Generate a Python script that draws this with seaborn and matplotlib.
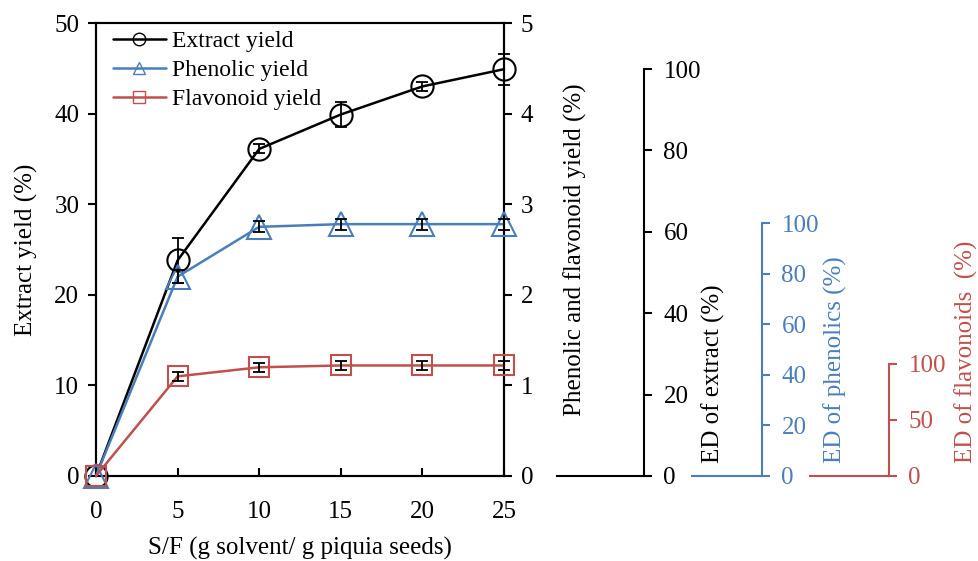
import matplotlib
matplotlib.use("Agg")
import matplotlib.pyplot as plt
from matplotlib.lines import Line2D
import seaborn as sns
import pandas as pd
import numpy as np

# ---- data ----
sf = [0, 5, 10, 15, 20, 25]
extract_yield = [0, 23.8, 36.1, 39.9, 43.0, 44.9]
extract_err = [0, 2.5, 0.5, 1.4, 0.5, 1.7]
phenolic_yield = [0, 2.20, 2.75, 2.78, 2.78, 2.78]
phenolic_err = [0, 0.07, 0.06, 0.06, 0.06, 0.06]
flavonoid_yield = [0, 1.10, 1.20, 1.22, 1.22, 1.22]
flavonoid_err = [0, 0.05, 0.05, 0.05, 0.05, 0.05]

series_names = ["Extract yield", "Phenolic yield", "Flavonoid yield"]
c_black = "#000000"
c_blue = "#4A7EBB"
c_red = "#C0504D"

sns.set_theme(style="white")
plt.rcParams["font.family"] = ["Liberation Serif", "DejaVu Serif"]
plt.rcParams["font.size"] = 18
plt.rcParams["axes.linewidth"] = 1.5
plt.rcParams["text.color"] = "black"
plt.rcParams["axes.labelcolor"] = "black"
plt.rcParams["xtick.color"] = "black"
plt.rcParams["ytick.color"] = "black"

W, H = 979, 561
fig = plt.figure(figsize=(W / 100, H / 100), dpi=100)

def px_axes(x0, x1, ytop, ybot):
    return fig.add_axes([x0 / W, 1 - ybot / H, (x1 - x0) / W, (ybot - ytop) / H])

ax = px_axes(96, 504, 23, 476)
ax2 = ax.twinx()

df = pd.DataFrame({"sf": sf, "ext": extract_yield, "phe": phenolic_yield, "fla": flavonoid_yield})

sns.lineplot(data=df, x="sf", y="ext", ax=ax, color=c_black, marker="o", markersize=16,
             markerfacecolor="none", markeredgecolor=c_black, markeredgewidth=1.5, lw=1.8,
             zorder=3, clip_on=False)
sns.lineplot(data=df, x="sf", y="phe", ax=ax2, color=c_blue, marker="^", markersize=17,
             markerfacecolor="none", markeredgecolor=c_blue, markeredgewidth=1.5, lw=1.8,
             zorder=3, clip_on=False)
sns.lineplot(data=df, x="sf", y="fla", ax=ax2, color=c_red, marker="s", markersize=14,
             markerfacecolor="none", markeredgecolor=c_red, markeredgewidth=1.5, lw=1.8,
             zorder=3, clip_on=False)

for a, yv, ye in ((ax, extract_yield, extract_err), (ax2, phenolic_yield, phenolic_err),
                  (ax2, flavonoid_yield, flavonoid_err)):
    eb = a.errorbar(sf[1:], yv[1:], yerr=ye[1:], fmt="none", ecolor="black",
                    elinewidth=1.3, capsize=4.5, capthick=1.3, zorder=4)
    for art in list(eb.lines[1]) + list(eb.lines[2]):
        art.set_clip_on(False)

ax.set_xlim(0, 25)
ax.set_ylim(0, 50)
ax2.set_ylim(0, 5)
ax.set_xticks([0, 5, 10, 15, 20, 25])
ax.set_yticks([0, 10, 20, 30, 40, 50])
ax2.set_yticks([0, 1, 2, 3, 4, 5])
for a in (ax, ax2):
    for s in a.spines.values():
        s.set_color("black")
        s.set_linewidth(1.5)
ax.tick_params(axis="x", direction="in", length=6, width=1.5, pad=18, colors="black", labelsize=18, bottom=True)
ax.tick_params(axis="y", direction="out", length=6, width=1.5, pad=6, colors="black", labelsize=18, left=True)
ax2.tick_params(axis="y", direction="out", length=6, width=1.5, pad=6, colors="black", labelsize=18, right=True)
ax.set_xlabel("S/F (g solvent/ g piquia seeds)", fontsize=18, labelpad=10, color="black")
ax.set_ylabel("Extract yield (%)", fontsize=18, labelpad=12, color="black")
ax2.set_ylabel("Phenolic and flavonoid yield (%)", fontsize=18, labelpad=22, color="black")
ax.grid(False)
ax2.grid(False)

handles = [
    Line2D([], [], color=c_black, marker="o", markersize=9, markerfacecolor="none", lw=1.8),
    Line2D([], [], color=c_blue, marker="^", markersize=9, markerfacecolor="none", lw=1.8),
    Line2D([], [], color=c_red, marker="s", markersize=9, markerfacecolor="none", lw=1.8),
]
leg = ax.legend(handles, series_names, loc="upper left", frameon=False, fontsize=17,
                handlelength=2.25, handletextpad=0.25, labelspacing=0.32, borderaxespad=0.0,
                bbox_to_anchor=(0.018, 1.004), labelcolor="black")

# ---- ED axes (empty decorative axes) ----
ed_specs = [
    (557, 644, 69, c_black, [0, 20, 40, 60, 80, 100], "ED of extract (%)", 713),
    (692, 762, 223, c_blue, [0, 20, 40, 60, 80, 100], "ED of phenolics (%)", 835),
    (810, 889, 364, c_red, [0, 50, 100], "ED of flavonoids  (%)", 966),
]
for x0, x1, ytop, col, ticks, lab, lx in ed_specs:
    e = px_axes(x0, x1, ytop, 476)
    e.set_facecolor("none")
    e.set_ylim(0, 100)
    e.set_xlim(0, 1)
    e.set_yticks(ticks)
    e.set_xticks([])
    e.yaxis.tick_right()
    for k in ("left", "top"):
        e.spines[k].set_visible(False)
    for k in ("right", "bottom"):
        e.spines[k].set_color(col)
        e.spines[k].set_linewidth(1.5)
    e.tick_params(axis="y", direction="out", length=6, width=1.5, pad=8, colors=col, labelsize=18)
    e.grid(False)
    fig.text(lx / W, 1 - 463 / H, lab, rotation=90, ha="center", va="bottom", color=col, fontsize=18)

fig.savefig("out.png", dpi=100)
